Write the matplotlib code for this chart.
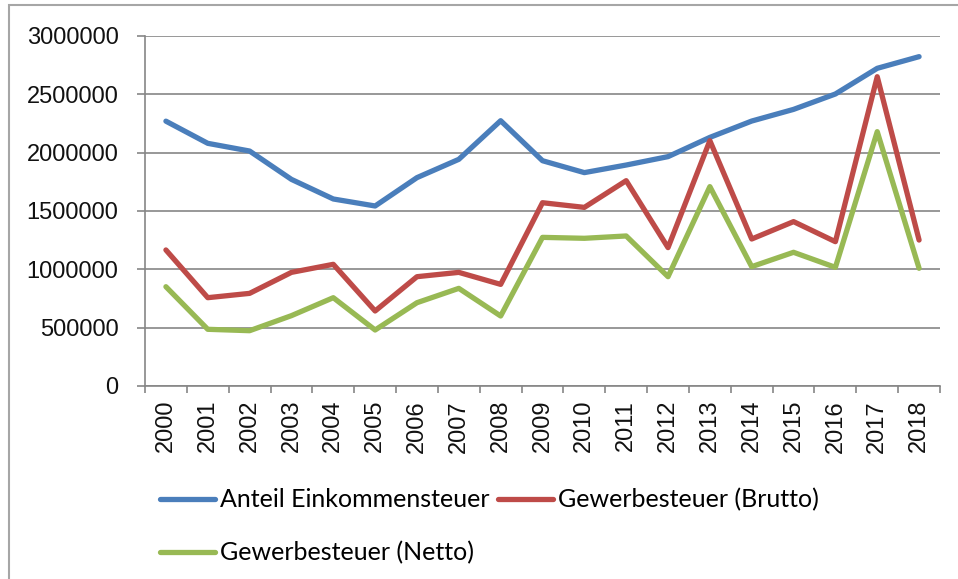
import matplotlib
matplotlib.use("Agg")
import matplotlib.pyplot as plt
from matplotlib.patches import Rectangle
from matplotlib.ticker import FixedLocator

# Jahre und Steuereinnahmen
jahre = [str(j) for j in range(2000, 2019)]
einkommensteuer = [2270000, 2080000, 2014000, 1771000, 1603000, 1543000, 1786000, 1943000,
                   2274000, 1931000, 1829000, 1894000, 1966000, 2131000, 2271000, 2371000,
                   2503000, 2723000, 2823000]
gewerbe_brutto = [1166000, 757000, 794000, 974000, 1043000, 643000, 937000, 974000,
                  871000, 1571000, 1531000, 1760000, 1186000, 2103000, 1260000, 1409000,
                  1237000, 2651000, 1251000]
gewerbe_netto = [851000, 486000, 474000, 603000, 757000, 480000, 714000, 837000,
                 600000, 1274000, 1266000, 1286000, 937000, 1709000, 1023000, 1146000,
                 1017000, 2180000, 1009000]
y_ticks = [0, 500000, 1000000, 1500000, 2000000, 2500000, 3000000]

W, H = 958, 579
fig = plt.figure(figsize=(W / 100, H / 100), dpi=100)
fig.patch.set_facecolor("white")

# Rahmen um das Diagramm
fig.patches.append(Rectangle((8.5 / W, -0.05), 1.1, 1 - 5 / H + 0.05, transform=fig.transFigure,
                             fill=False, edgecolor="#a6a6a6", linewidth=1.5))

ax = fig.add_axes([145 / W, 1 - 386 / H, (940 - 145) / W, (386 - 36) / H])

grau = "#868686"
x = list(range(len(jahre)))
l1, = ax.plot(x, einkommensteuer, color="#4a7ebb", lw=3.8, solid_capstyle="round", solid_joinstyle="round")
l2, = ax.plot(x, gewerbe_brutto, color="#be4b48", lw=3.8, solid_capstyle="round", solid_joinstyle="round")
l3, = ax.plot(x, gewerbe_netto, color="#98b954", lw=3.8, solid_capstyle="round", solid_joinstyle="round")

ax.set_xlim(-0.5, len(jahre) - 0.5)
ax.set_ylim(0, 3000000)
ax.set_yticks(y_ticks)
ax.set_yticklabels([str(v) for v in y_ticks])
ax.set_xticks(x)
ax.set_xticklabels(jahre, rotation=90)
ax.xaxis.set_minor_locator(FixedLocator([i - 0.5 for i in range(len(jahre) + 1)]))

ax.grid(axis="y", color=grau, linewidth=1.2)
ax.set_axisbelow(True)
for s in ["top", "right"]:
    ax.spines[s].set_visible(False)
for s in ["left", "bottom"]:
    ax.spines[s].set_color(grau)
    ax.spines[s].set_linewidth(1.2)

ax.tick_params(axis="y", length=6, width=1.2, color=grau, pad=13,
               labelsize=17, labelfontfamily="Liberation Sans", labelcolor="#111111")
ax.tick_params(axis="x", which="major", length=0, pad=10,
               labelsize=17, labelfontfamily="Liberation Sans", labelcolor="#111111")
ax.tick_params(axis="x", which="minor", length=5, width=1.2, color=grau)

fs = 18
fs_px = fs * 100 / 72
fig.legend([l1, l3, l2], ["Anteil Einkommensteuer", "Gewerbesteuer (Netto)", "Gewerbesteuer (Brutto)"],
           ncol=2, loc="upper left", bbox_to_anchor=(160 / W, 1 - 488 / H), frameon=False,
           borderpad=0, borderaxespad=0, handlelength=55 / fs_px, handletextpad=5 / fs_px,
           columnspacing=8 / fs_px, labelspacing=1.2,
           prop={"family": "Lato", "size": fs})

fig.savefig("out.png", dpi=100)
